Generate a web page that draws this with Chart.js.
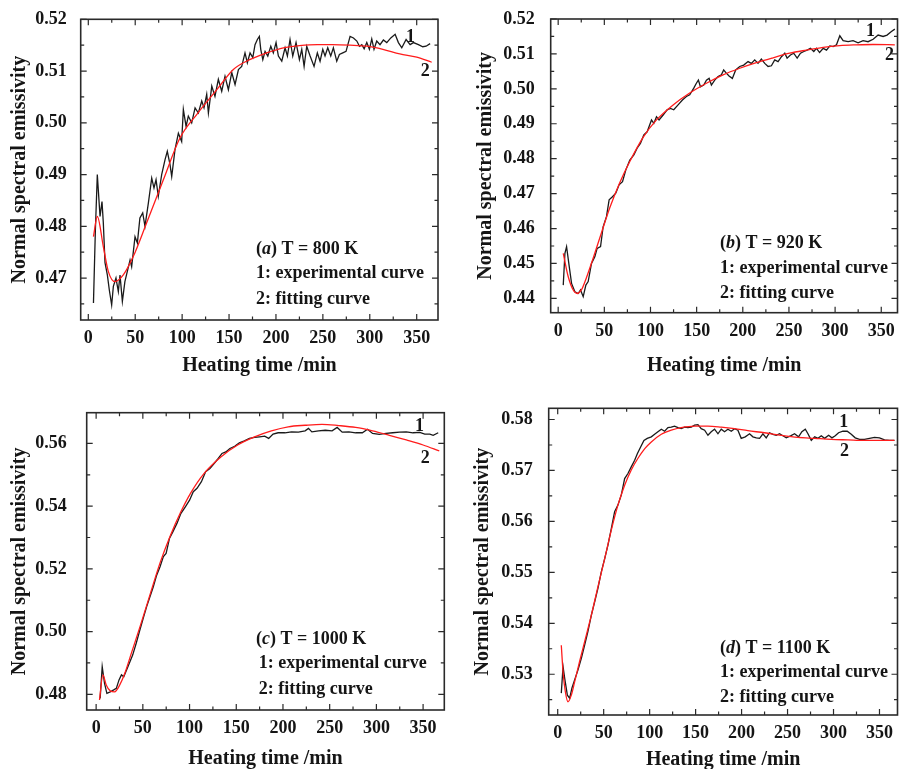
<!DOCTYPE html>
<html lang="en">
<head>
<meta charset="UTF-8">
<title>Normal spectral emissivity vs heating time</title>
<script src="https://cdn.jsdelivr.net/npm/chart.js@4.4.0/dist/chart.umd.min.js"></script>
<style>
    html, body { margin: 0; padding: 0; background: #fff; }
    #wrap { position: relative; width: 899px; height: 769px; }
    canvas { position: absolute; }
</style>
</head>
<body>
<div id="wrap">
    <canvas id="chartA" width="450" height="385" style="left:0;top:0"></canvas>
    <canvas id="chartB" width="449" height="385" style="left:450px;top:0"></canvas>
    <canvas id="chartC" width="450" height="384" style="left:0;top:385px"></canvas>
    <canvas id="chartD" width="449" height="384" style="left:450px;top:385px"></canvas>
</div>
<script>
// ---- data ----
const xTicks = [0, 50, 100, 150, 200, 250, 300, 350];
const yTicksA = [0.47, 0.48, 0.49, 0.50, 0.51, 0.52];
const yTicksB = [0.44, 0.45, 0.46, 0.47, 0.48, 0.49, 0.50, 0.51, 0.52];
const yTicksC = [0.48, 0.50, 0.52, 0.54, 0.56];
const yTicksD = [0.53, 0.54, 0.55, 0.56, 0.57, 0.58];

// (a) T = 800 K
const timeExpA = [
    5.5, 7.5, 9.6, 12.5, 14.6, 16.0, 17.8, 20.3, 22.4, 24.9,
    26.7, 29.5, 32.0, 33.8, 36.3, 39.0, 41.6, 44.5, 46.2, 49.8,
    52.3, 55.0, 58.0, 60.4, 64.0, 67.6, 70.0, 72.2, 74.6, 78.2,
    81.8, 84.2, 87.1, 88.9, 92.4, 96.0, 99.5, 101.3, 104.2, 106.6,
    110.2, 113.8, 117.3, 120.9, 123.3, 126.2, 128.0, 131.6, 135.0, 138.6,
    142.2, 145.7, 149.3, 152.9, 156.4, 160.0, 163.5, 167.0, 169.5, 172.4,
    175.3, 177.7, 180.2, 182.3, 183.8, 186.0, 188.4, 191.3, 194.5, 197.2,
    200.1, 202.6, 206.2, 209.7, 212.2, 215.0, 217.9, 221.4, 225.0, 227.5,
    230.0, 232.8, 236.4, 240.6, 244.1, 247.0, 249.9, 252.3, 255.2, 258.4,
    261.2, 264.8, 267.6, 271.2, 274.7, 279.0, 282.6, 286.2, 289.0, 291.5,
    294.0, 296.8, 299.6, 302.1, 304.5, 307.4, 310.9, 314.5, 318.1, 322.4,
    327.0, 330.5, 334.1, 338.7, 343.0, 346.5, 351.8, 356.5, 360.0, 364.3
];
const expA = [
    0.4652, 0.4790, 0.4900, 0.4819, 0.4848, 0.4807, 0.4730, 0.4706, 0.4677, 0.4648,
    0.4684, 0.4700, 0.4674, 0.4706, 0.4655, 0.4693, 0.4713, 0.4735, 0.4722, 0.4780,
    0.4768, 0.4816, 0.4826, 0.4800, 0.4845, 0.4893, 0.4874, 0.4890, 0.4858, 0.4900,
    0.4929, 0.4945, 0.4919, 0.4896, 0.4948, 0.4980, 0.4964, 0.5026, 0.4993, 0.5013,
    0.5000, 0.5029, 0.5019, 0.5042, 0.5029, 0.5055, 0.5019, 0.5071, 0.5051, 0.5084,
    0.5061, 0.5090, 0.5064, 0.5097, 0.5074, 0.5103, 0.5109, 0.5135, 0.5116, 0.5135,
    0.5126, 0.5151, 0.5161, 0.5167, 0.5142, 0.5122, 0.5138, 0.5129, 0.5148, 0.5135,
    0.5155, 0.5129, 0.5119, 0.5145, 0.5129, 0.5161, 0.5129, 0.5155, 0.5122, 0.5142,
    0.5109, 0.5148, 0.5129, 0.5109, 0.5135, 0.5119, 0.5142, 0.5129, 0.5145, 0.5129,
    0.5145, 0.5119, 0.5132, 0.5135, 0.5138, 0.5167, 0.5164, 0.5158, 0.5148, 0.5151,
    0.5143, 0.5155, 0.5142, 0.5162, 0.5142, 0.5158, 0.5151, 0.5160, 0.5155, 0.5164,
    0.5171, 0.5155, 0.5145, 0.5161, 0.5151, 0.5155, 0.5151, 0.5147, 0.5148, 0.5153
];
const timeFitA = [5.5, 9.6, 16, 21.3, 28.5, 37.3, 48, 62, 80, 97.8, 115.5, 137, 154.6,
    172, 190, 208, 225, 244, 260, 279, 297, 314, 332, 350, 366];
const fitA = [0.4780, 0.4819, 0.4761, 0.4713, 0.4693, 0.4706, 0.4742, 0.4806, 0.4890, 0.4971,
    0.5016, 0.5064, 0.5103, 0.5122, 0.5135, 0.5145, 0.5149, 0.5151, 0.5151, 0.5150,
    0.5148, 0.5142, 0.5133, 0.5127, 0.5117];

// (b) T = 920 K
const timeExpB = [
    5.5, 7.3, 9.1, 12, 14.5, 18.1, 21.7, 24.2, 27.1, 30,
    32.5, 36.1, 39.7, 42.2, 45.9, 48.7, 52.3, 55.2, 58.8, 62.4,
    66, 69.7, 73.3, 77.6, 82, 85.5, 89.1, 92.8, 96.4, 98.5,
    101.1, 103.6, 106.5, 109.3, 113.7, 118, 121.6, 125.2, 129.9, 134.6,
    138.9, 142.5, 146.9, 149.7, 151.9, 154.1, 157.7, 160.6, 163.5, 166,
    169.6, 173.2, 176.8, 179.3, 182.2, 185.1, 188.7, 192.3, 196.7, 201,
    205.7, 209.3, 212.9, 216.5, 220.1, 223.8, 227.4, 231, 234.6, 238.2,
    241.9, 245.5, 248, 251.6, 255.2, 258.9, 262.5, 266.1, 269.7, 273.3,
    276.9, 279.8, 283.2, 287.1, 290.7, 294.3, 297.9, 301.5, 305.1, 308.7,
    314.1, 319.5, 324.9, 330.3, 335.7, 341.2, 346.6, 352, 356.3, 361, 364.7
];
const expB = [
    0.4438, 0.4529, 0.4548, 0.4491, 0.4443, 0.4419, 0.4414, 0.4424, 0.4405, 0.4438,
    0.4448, 0.4500, 0.4519, 0.4543, 0.4548, 0.4605, 0.4634, 0.4682, 0.4691, 0.4701,
    0.4725, 0.4734, 0.4768, 0.4796, 0.4811, 0.4830, 0.4844, 0.4868, 0.4877, 0.4892,
    0.4911, 0.4901, 0.4920, 0.4911, 0.4925, 0.4940, 0.4944, 0.4940, 0.4954, 0.4968,
    0.4978, 0.4983, 0.5002, 0.5016, 0.5025, 0.5006, 0.5011, 0.5025, 0.5030, 0.5011,
    0.5025, 0.5035, 0.5040, 0.5054, 0.5045, 0.5037, 0.5030, 0.5054, 0.5064, 0.5068,
    0.5078, 0.5073, 0.5083, 0.5073, 0.5085, 0.5073, 0.5064, 0.5066, 0.5083, 0.5078,
    0.5092, 0.5102, 0.5088, 0.5097, 0.5102, 0.5088, 0.5102, 0.5107, 0.5111, 0.5116,
    0.5107, 0.5116, 0.5104, 0.5116, 0.5111, 0.5123, 0.5121, 0.5126, 0.5152, 0.5138,
    0.5135, 0.5138, 0.5132, 0.5138, 0.5135, 0.5142, 0.5154, 0.5150, 0.5154, 0.5164, 0.5171
];
const timeFitB = [5.5, 10.9, 16.3, 20.6, 25.3, 30.7, 37.9, 46.9, 56, 66.8, 77.6, 92, 106.5,
    124.5, 142.5, 160.6, 178.6, 196.7, 214.7, 232.8, 250.8, 268.9, 287, 305, 323, 341, 364.7];
const fitB = [0.4529, 0.4462, 0.4424, 0.4414, 0.4425, 0.4460, 0.4515, 0.4588, 0.4660, 0.4732,
    0.4792, 0.4861, 0.4911, 0.4954, 0.4988, 0.5016, 0.5040, 0.5059, 0.5075, 0.5089,
    0.5102, 0.5111, 0.5119, 0.5124, 0.5126, 0.5127, 0.5126];

// (c) T = 1000 K
const timeExpC = [
    4.3, 6.5, 9.0, 11.5, 15.1, 18.8, 21.6, 24.5, 27.1, 29.6,
    34.0, 39.1, 42.9, 46.8, 50.4, 54.0, 57.6, 61.2, 64.8, 68.4,
    72.0, 74.9, 78.5, 82.1, 86.5, 90.8, 95.5, 100.0, 104.0, 108.0,
    112.7, 117.2, 121.8, 126.3, 130.7, 134.7, 138.8, 143.2, 148.3, 153.3,
    158.7, 164.1, 169.6, 175.0, 180.4, 184.7, 189.4, 194.8, 202.0, 209.2,
    216.5, 223.7, 227.3, 230.9, 238.1, 245.3, 252.6, 258.0, 263.4, 270.6,
    277.8, 285.0, 290.5, 295.9, 303.1, 310.3, 317.5, 324.7, 332.0, 339.2,
    346.4, 351.8, 357.2, 360.8, 366.2
];
const expC = [
    0.4787, 0.4888, 0.4835, 0.4803, 0.4808, 0.4814, 0.4819, 0.4846, 0.4862, 0.4856,
    0.4888, 0.4925, 0.4963, 0.5005, 0.5042, 0.5079, 0.5111, 0.5143, 0.5180, 0.5207,
    0.5239, 0.5249, 0.5297, 0.5318, 0.5345, 0.5377, 0.5398, 0.5419, 0.5446, 0.5457,
    0.5478, 0.5510, 0.5520, 0.5536, 0.5552, 0.5568, 0.5573, 0.5584, 0.5591, 0.5602,
    0.5608, 0.5616, 0.5619, 0.5621, 0.5623, 0.5616, 0.5630, 0.5634, 0.5634, 0.5637,
    0.5636, 0.5640, 0.5648, 0.5637, 0.5640, 0.5642, 0.5640, 0.5651, 0.5636, 0.5637,
    0.5634, 0.5634, 0.5645, 0.5632, 0.5629, 0.5632, 0.5634, 0.5636, 0.5637, 0.5634,
    0.5635, 0.5630, 0.5630, 0.5626, 0.5634
];
const timeFitC = [3.6, 7.2, 10.8, 15.1, 19.8, 25.3, 30.7, 37.9, 46.9, 57.7, 68.5, 79.4, 90.2,
    101, 115.4, 133.5, 151.5, 169.6, 187.6, 205.6, 223.7, 241.7, 259.7, 277.8, 295.9,
    313.9, 332, 350, 367.3];
const fitC = [0.4782, 0.4862, 0.4830, 0.4811, 0.4808, 0.4830, 0.4867, 0.4933, 0.5015, 0.5118,
    0.5220, 0.5306, 0.5379, 0.5441, 0.5504, 0.5557, 0.5595, 0.5621, 0.5640, 0.5653,
    0.5658, 0.5661, 0.5657, 0.5651, 0.5640, 0.5626, 0.5611, 0.5595, 0.5576];

// (d) T = 1100 K
const timeExpD = [
    3.9, 5.8, 7.6, 10.5, 13.0, 15.5, 18.4, 22.0, 25.7, 29.3,
    32.9, 36.6, 40.2, 43.8, 47.4, 51.1, 54.7, 58.3, 61.9, 65.5,
    69.2, 72.8, 76.4, 80.0, 83.7, 86.6, 90.2, 93.8, 97.4, 101.8,
    105.4, 109.0, 112.7, 116.3, 119.9, 123.5, 127.1, 130.8, 134.4, 138.0,
    141.6, 145.3, 148.9, 152.5, 156.1, 159.8, 163.4, 167.0, 170.6, 174.3,
    177.9, 181.5, 185.1, 188.8, 192.4, 196.0, 199.6, 204.0, 208.7, 212.3,
    216.0, 219.6, 223.2, 226.8, 230.4, 234.1, 237.7, 241.3, 244.9, 248.6,
    253.3, 257.6, 262.0, 265.6, 269.3, 272.2, 275.8, 279.5, 283.1, 286.7,
    290.3, 294.7, 298.3, 301.9, 305.5, 310.2, 314.9, 319.3, 323.6, 328.3,
    333.7, 339.2, 344.6, 350.0, 355.5, 360.9, 366.3
];
const expD = [
    0.5263, 0.5315, 0.5292, 0.5259, 0.5253, 0.5273, 0.5289, 0.5308, 0.5331, 0.5357,
    0.5384, 0.5416, 0.5442, 0.5469, 0.5501, 0.5527, 0.5554, 0.5586, 0.5619, 0.5632,
    0.5652, 0.5684, 0.5694, 0.5707, 0.5720, 0.5733, 0.5746, 0.5759, 0.5763, 0.5766,
    0.5771, 0.5776, 0.5781, 0.5777, 0.5784, 0.5785, 0.5787, 0.5784, 0.5782, 0.5785,
    0.5784, 0.5785, 0.5789, 0.5790, 0.5782, 0.5779, 0.5769, 0.5776, 0.5781, 0.5772,
    0.5781, 0.5776, 0.5781, 0.5777, 0.5782, 0.5779, 0.5763, 0.5766, 0.5772, 0.5766,
    0.5764, 0.5763, 0.5772, 0.5764, 0.5774, 0.5771, 0.5769, 0.5772, 0.5768, 0.5764,
    0.5768, 0.5772, 0.5766, 0.5776, 0.5781, 0.5772, 0.5759, 0.5766, 0.5763, 0.5768,
    0.5763, 0.5769, 0.5764, 0.5768, 0.5774, 0.5777, 0.5777, 0.5771, 0.5764, 0.5761,
    0.5761, 0.5763, 0.5765, 0.5764, 0.5760, 0.5759, 0.5759
];
const timeFitD = [3.9, 5.8, 8.3, 11.2, 14.8, 18.4, 23.8, 29.3, 36.6, 43.8, 51.1, 58.3, 65.5,
    72.8, 80, 87.3, 94.7, 101.8, 112.7, 123.5, 134.4, 148.9, 163.4, 177.9, 192.4, 206.8,
    224.9, 243.1, 261.2, 279.5, 297.6, 315.7, 333.7, 366.3];
const fitD = [0.5357, 0.5305, 0.5266, 0.5246, 0.5259, 0.5285, 0.5325, 0.5364, 0.5416, 0.5472,
    0.5527, 0.5583, 0.5632, 0.5671, 0.5701, 0.5724, 0.5743, 0.5756, 0.5771, 0.5779,
    0.5784, 0.5787, 0.5787, 0.5785, 0.5782, 0.5778, 0.5774, 0.5769, 0.5765, 0.5763,
    0.5761, 0.5760, 0.5759, 0.5759];

// ---- drawing ----
const SERIF = "'Liberation Serif', 'Times New Roman', serif";
const INK = '#151515';
Chart.defaults.font.family = SERIF;

function pts(xs, ys) {
    const n = Math.min(xs.length, ys.length);
    const out = [];
    for (let i = 0; i < n; i++) out.push({ x: xs[i], y: ys[i] });
    return out;
}

function minorVals(ticks, min, max) {
    const step = ticks[1] - ticks[0];
    const out = [];
    for (let k = -1; k < ticks.length; k++) {
        const v = ticks[0] + (k + 0.5) * step;
        if (v > min && v < max) out.push(v);
    }
    return out;
}

// inward ticks on all four sides, frame, and the text notes
const frameTicks = {
    id: 'frameTicks',
    afterDraw(chart, args, o) {
        const { ctx, chartArea: a, scales: { x, y } } = chart;
        ctx.save();
        ctx.strokeStyle = '#2a2a2a';
        ctx.lineWidth = 1.2;
        ctx.beginPath();
        const xs = [[o.xTicks, 6], [minorVals(o.xTicks, x.min, x.max), 3.5]];
        xs.forEach(([vals, len]) => vals.forEach(v => {
            const p = x.getPixelForValue(v);
            ctx.moveTo(p, a.bottom); ctx.lineTo(p, a.bottom - len);
            ctx.moveTo(p, a.top); ctx.lineTo(p, a.top + len);
        }));
        const ys = [[o.yTicks, 6], [minorVals(o.yTicks, y.min, y.max), 3.5]];
        ys.forEach(([vals, len]) => vals.forEach(v => {
            const p = y.getPixelForValue(v);
            ctx.moveTo(a.left, p); ctx.lineTo(a.left + len, p);
            ctx.moveTo(a.right, p); ctx.lineTo(a.right - len, p);
        }));
        ctx.stroke();
        ctx.lineWidth = 1.6;
        ctx.strokeRect(a.left, a.top, a.right - a.left, a.bottom - a.top);

        ctx.fillStyle = INK;
        ctx.textBaseline = 'alphabetic';
        ctx.textAlign = 'left';
        const bold = 'bold 18px ' + SERIF;
        const ital = 'italic bold 18px ' + SERIF;
        // first line: (a) T = 800 K with italic letter
        let cx = o.noteX;
        [['(', bold], [o.letter, ital], [') ' + o.temp, bold]].forEach(([t, f]) => {
            ctx.font = f;
            ctx.fillText(t, cx, o.lines[0]);
            cx += ctx.measureText(t).width;
        });
        ctx.font = bold;
        ctx.fillText('1: experimental curve', o.noteX2, o.lines[1]);
        ctx.fillText('2: fitting curve', o.noteX2, o.lines[2]);
        ctx.fillText('1', o.one[0], o.one[1]);
        ctx.fillText('2', o.two[0], o.two[1]);
        ctx.restore();
    }
};

function makePanel(id, cfg) {
    const cv = document.getElementById(id);
    const W = cv.width, H = cv.height, ar = cfg.area;
    const tickFont = { family: SERIF, size: 18, weight: 'bold' };
    const titleFont = { family: SERIF, size: 20, weight: 'bold' };
    return new Chart(cv, {
        type: 'line',
        data: {
            datasets: [
                {
                    data: pts(cfg.tf, cfg.fit), borderColor: '#ff1c1c', borderWidth: 1.3,
                    pointRadius: 0, cubicInterpolationMode: 'monotone', order: 0
                },
                {
                    data: pts(cfg.te, cfg.exp), borderColor: '#1a1a1a', borderWidth: 1.3,
                    pointRadius: 0, tension: 0, order: 1
                }
            ]
        },
        options: {
            responsive: false,
            animation: false,
            devicePixelRatio: 1,
            layout: { padding: { left: 0, top: ar.top, right: W - ar.right, bottom: 0 } },
            plugins: {
                legend: { display: false },
                tooltip: { enabled: false },
                frameTicks: cfg.notes
            },
            scales: {
                x: {
                    type: 'linear', min: cfg.xMin, max: cfg.xMax,
                    grid: { display: false }, border: { display: false },
                    afterBuildTicks: s => { s.ticks = xTicks.map(v => ({ value: v })); },
                    afterFit: s => { s.height = H - ar.bottom; },
                    ticks: { padding: 0, font: tickFont, color: INK, maxRotation: 0, autoSkip: false,
                        callback: v => String(v) },
                    title: { display: true, text: 'Heating time /min', font: titleFont, color: INK,
                        padding: { top: 0, bottom: cfg.xTitlePad } }
                },
                y: {
                    type: 'linear', min: cfg.yMin, max: cfg.yMax,
                    grid: { display: false }, border: { display: false },
                    afterBuildTicks: s => { s.ticks = cfg.yTicks.map(v => ({ value: v })); },
                    afterFit: s => { s.width = ar.left; },
                    ticks: { padding: cfg.yLabelPad, font: tickFont, color: INK, autoSkip: false,
                        callback: v => v.toFixed(2) },
                    title: { display: true, text: 'Normal spectral emissivity', font: titleFont, color: INK,
                        padding: { top: cfg.yTitlePad, bottom: 0 } }
                }
            }
        },
        plugins: [frameTicks]
    });
}

makePanel('chartA', {
    te: timeExpA, exp: expA, tf: timeFitA, fit: fitA,
    xMin: -8.1, xMax: 372.7, yMin: 0.4619, yMax: 0.52, yTicks: yTicksA,
    area: { left: 80.7, top: 19.3, right: 438, bottom: 320 },
    yLabelPad: 6, yTitlePad: 8, xTitlePad: 7,
    notes: { xTicks: xTicks, yTicks: yTicksA, letter: 'a', temp: 'T = 800 K',
        noteX: 256, noteX2: 256, lines: [254, 278, 304], one: [406, 41.7], two: [420.7, 76] }
});
makePanel('chartB', {
    te: timeExpB, exp: expB, tf: timeFitB, fit: fitB,
    xMin: -8.1, xMax: 367.6, yMin: 0.4359, yMax: 0.52, yTicks: yTicksB,
    area: { left: 100.7, top: 19, right: 447.5, bottom: 312.7 },
    yLabelPad: 8, yTitlePad: 24, xTitlePad: 7,
    notes: { xTicks: xTicks, yTicks: yTicksB, letter: 'b', temp: 'T = 920 K',
        noteX: 270, noteX2: 270, lines: [248, 273, 298], one: [416, 36], two: [435, 60] }
});
makePanel('chartC', {
    te: timeExpC, exp: expC, tf: timeFitC, fit: fitC,
    xMin: -10.1, xMax: 372.7, yMin: 0.475, yMax: 0.5698, yTicks: yTicksC,
    area: { left: 86.7, top: 27.7, right: 444.3, bottom: 325 },
    yLabelPad: 12, yTitlePad: 8, xTitlePad: -2,
    notes: { xTicks: xTicks, yTicks: yTicksC, letter: 'c', temp: 'T = 1000 K',
        noteX: 256, noteX2: 258.7, lines: [259, 283, 309], one: [415, 45.7], two: [420.7, 77.7] }
});
makePanel('chartD', {
    te: timeExpD, exp: expD, tf: timeFitD, fit: fitD,
    xMin: -9.8, xMax: 369.6, yMin: 0.522, yMax: 0.5822, yTicks: yTicksD,
    area: { left: 98.7, top: 23.3, right: 447.5, bottom: 330 },
    yLabelPad: 8, yTitlePad: 20.7, xTitlePad: -3,
    notes: { xTicks: xTicks, yTicks: yTicksD, letter: 'd', temp: 'T = 1100 K',
        noteX: 270, noteX2: 270, lines: [267.7, 291.7, 317.3], one: [389.3, 42.3], two: [390, 70.7] }
});
</script>
</body>
</html>
